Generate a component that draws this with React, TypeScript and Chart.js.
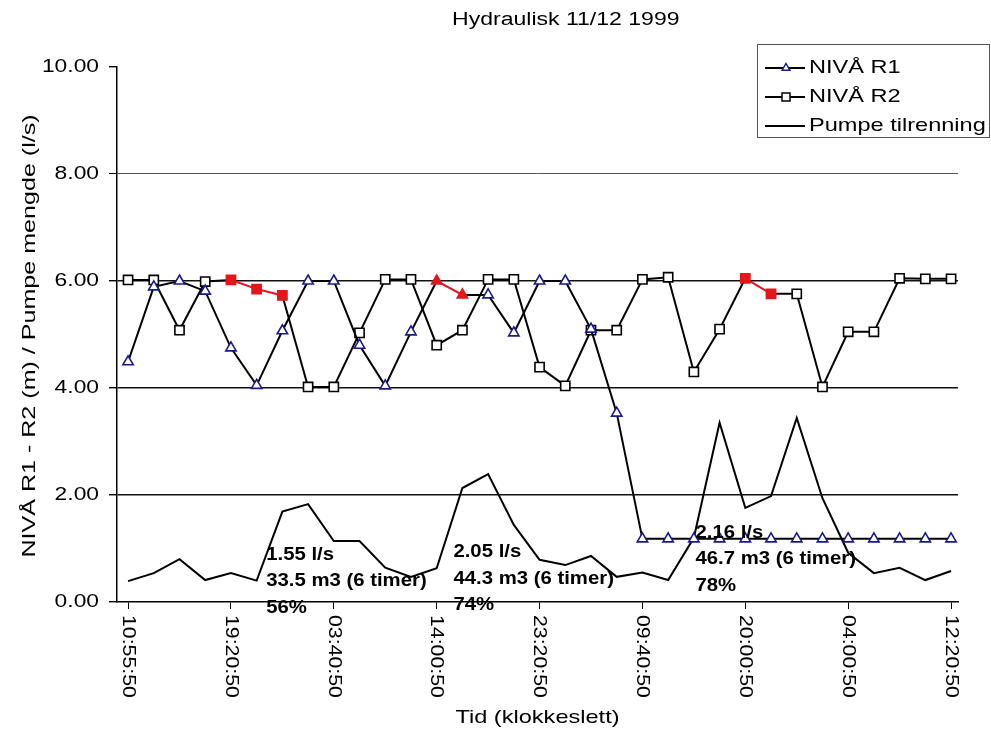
import React, { useEffect, useRef } from "react";
import { Chart, registerables } from "chart.js";

Chart.register(...registerables);

// ---------- data ----------
const chartTitle = "Hydraulisk 11/12 1999";
const xAxisTitle = "Tid (klokkeslett)";
const yAxisTitle = "NIVÅ R1 - R2 (m) / Pumpe mengde (l/s)";

// tick labels, one for every 4th sample
const timeTickLabels = [
  "10:55:50",
  "19:20:50",
  "03:40:50",
  "14:00:50",
  "23:20:50",
  "09:40:50",
  "20:00:50",
  "04:00:50",
  "12:20:50",
];
const samplesPerTick = 4;

const nivaR1 = [
  4.49, 5.89, 6.0, 5.81, 4.75, 4.05, 5.07, 6.0, 6.0, 4.8, 4.04, 5.05, 6.0, 5.74,
  5.74, 5.03, 6.0, 6.0, 5.1, 3.53, 1.18, 1.18, 1.18, 1.18, 1.18, 1.18, 1.18,
  1.18, 1.18, 1.18, 1.18, 1.18, 1.18,
];
const nivaR2 = [
  6.02, 6.02, 5.08, 5.99, 6.02, 5.85, 5.73, 4.02, 4.02, 5.03, 6.03, 6.03, 4.8,
  5.08, 6.03, 6.03, 4.39, 4.04, 5.08, 5.08, 6.03, 6.07, 4.3, 5.1, 6.05, 5.76,
  5.76, 4.02, 5.05, 5.05, 6.05, 6.04, 6.04,
];
const pumpeTilrenning = [
  0.39, 0.54, 0.8, 0.41, 0.54, 0.4, 1.69, 1.83, 1.14, 1.14, 0.64, 0.47, 0.63,
  2.13, 2.39, 1.44, 0.79, 0.69, 0.86, 0.47, 0.55, 0.41, 1.2, 3.35, 1.76, 1.98,
  3.44, 1.94, 0.92, 0.54, 0.64, 0.41, 0.58,
];
// highlighted (red) samples
const r1RedIdx = [12, 13];
const r2RedIdx = [4, 5, 6, 24, 25];

const yTickValues = [0, 2, 4, 6, 8, 10];

const annotations = [
  { x: 5.37, y: 0.88, lines: ["1.55 l/s", "33.5 m3 (6 timer)", "56%"] },
  { x: 12.65, y: 0.93, lines: ["2.05 l/s", "44.3 m3 (6 timer)", "74%"] },
  { x: 22.06, y: 1.29, lines: ["2.16 l/s", "46.7 m3 (6 timer)", "78%"] },
];

const legendItems = [
  { label: "NIVÅ R1", marker: "triangle" },
  { label: "NIVÅ R2", marker: "rect" },
  { label: "Pumpe tilrenning", marker: "none" },
];

// ---------- style ----------
const FF = '"Liberation Sans", Arial, Helvetica, sans-serif';
const NAVY = "#1a1a8a";
const RED = "#e3161c";
const BLACK = "#000000";

function drawText(
  ctx: CanvasRenderingContext2D,
  text: string,
  x: number,
  y: number,
  font: string,
  align: CanvasTextAlign,
  rot = 0,
  sx = 1.2
) {
  ctx.save();
  ctx.translate(x, y);
  if (rot) ctx.rotate(rot);
  ctx.scale(sx, 1);
  ctx.font = font;
  ctx.fillStyle = BLACK;
  ctx.textAlign = align;
  ctx.textBaseline = "middle";
  ctx.fillText(text, 0, 0);
  ctx.restore();
}

function drawTri(ctx: CanvasRenderingContext2D, x: number, y: number, r: number) {
  ctx.beginPath();
  ctx.moveTo(x, y - r);
  ctx.lineTo(x + r * 0.866, y + r * 0.5);
  ctx.lineTo(x - r * 0.866, y + r * 0.5);
  ctx.closePath();
  ctx.fillStyle = "#fff";
  ctx.fill();
  ctx.strokeStyle = NAVY;
  ctx.lineWidth = 1.5;
  ctx.stroke();
}

const overlayPlugin = {
  id: "overlay",
  afterDraw(chart: any) {
    const ctx: CanvasRenderingContext2D = chart.ctx;
    const xs = chart.scales.x;
    const ys = chart.scales.y;
    const area = chart.chartArea;

    // title
    drawText(ctx, chartTitle, 452, 20, `18px ${FF}`, "left", 0, 1.28);

    // y tick labels
    yTickValues.forEach((v) => {
      drawText(ctx, v.toFixed(2), 99, ys.getPixelForValue(v), `19px ${FF}`, "right", 0, 1.2);
    });

    // x tick labels (rotated clockwise)
    timeTickLabels.forEach((lab, k) => {
      const px = xs.getPixelForValue(k * samplesPerTick);
      drawText(ctx, lab, px, 615, `19px ${FF}`, "left", Math.PI / 2, 1.12);
    });

    // axis titles
    drawText(ctx, xAxisTitle, (area.left + area.right) / 2, 718, `19px ${FF}`, "center", 0, 1.24);
    drawText(ctx, yAxisTitle, 30, 336, `19px ${FF}`, "center", -Math.PI / 2, 1.32);

    // annotations
    annotations.forEach((a) => {
      const px = xs.getPixelForValue(a.x);
      const py = ys.getPixelForValue(a.y);
      a.lines.forEach((line, i) => {
        drawText(ctx, line, px, py + i * 26.5, `bold 18px ${FF}`, "left", 0, 1.13);
      });
    });

    // legend
    ctx.save();
    ctx.fillStyle = "#fff";
    ctx.fillRect(757, 44, 233, 93);
    ctx.strokeStyle = "#555";
    ctx.lineWidth = 1;
    ctx.strokeRect(757.5, 44.5, 232, 93);
    ctx.restore();
    const rowsY = [68, 97, 126];
    legendItems.forEach((it, i) => {
      const y = rowsY[i];
      ctx.save();
      ctx.strokeStyle = BLACK;
      ctx.lineWidth = 2;
      ctx.beginPath();
      ctx.moveTo(765, y);
      ctx.lineTo(805, y);
      ctx.stroke();
      if (it.marker === "triangle") drawTri(ctx, 786, y, 4.5);
      if (it.marker === "rect") {
        ctx.fillStyle = "#fff";
        ctx.fillRect(782, y - 4, 8, 8);
        ctx.lineWidth = 1.5;
        ctx.strokeRect(782, y - 4, 8, 8);
      }
      ctx.restore();
      drawText(ctx, it.label, 809, y, `19px ${FF}`, "left", 0, 1.24);
    });
  },
};

export default function App() {
  const ref = useRef<HTMLCanvasElement | null>(null);

  useEffect(() => {
    document.body.style.margin = "0";
    const canvas = ref.current;
    if (!canvas) return;

    const r1Colors = nivaR1.map((_, i) => (r1RedIdx.includes(i) ? RED : NAVY));
    const r1Fill = nivaR1.map((_, i) => (r1RedIdx.includes(i) ? RED : "#ffffff"));
    const r2Colors = nivaR2.map((_, i) => (r2RedIdx.includes(i) ? RED : BLACK));
    const r2Fill = nivaR2.map((_, i) => (r2RedIdx.includes(i) ? RED : "#ffffff"));

    const chart = new Chart(canvas, {
      type: "line",
      data: {
        datasets: [
          {
            label: "Pumpe tilrenning",
            data: pumpeTilrenning.map((y, i) => ({ x: i, y })),
            borderColor: BLACK,
            borderWidth: 2,
            pointRadius: 0,
            tension: 0,
            order: 3,
          },
          {
            label: "NIVÅ R2",
            data: nivaR2.map((y, i) => ({ x: i, y })),
            borderColor: BLACK,
            borderWidth: 2,
            pointStyle: "rect",
            pointRadius: 6.5,
            pointBorderWidth: 1.6,
            pointBorderColor: r2Colors,
            pointBackgroundColor: r2Fill,
            tension: 0,
            segment: {
              borderColor: (c: any) =>
                r2RedIdx.includes(c.p0DataIndex) && r2RedIdx.includes(c.p1DataIndex)
                  ? RED
                  : BLACK,
            },
            order: 2,
          },
          {
            label: "NIVÅ R1",
            data: nivaR1.map((y, i) => ({ x: i, y })),
            borderColor: BLACK,
            borderWidth: 2,
            pointStyle: "triangle",
            pointRadius: 6,
            pointBorderWidth: 1.6,
            pointBorderColor: r1Colors,
            pointBackgroundColor: r1Fill,
            tension: 0,
            segment: {
              borderColor: (c: any) =>
                r1RedIdx.includes(c.p0DataIndex) && r1RedIdx.includes(c.p1DataIndex)
                  ? RED
                  : BLACK,
            },
            order: 1,
          },
        ],
      },
      options: {
        responsive: false,
        animation: false,
        layout: { padding: { top: 67, right: 33, left: 0, bottom: 0 } },
        plugins: {
          legend: { display: false },
          title: { display: false },
          tooltip: { enabled: false },
        },
        scales: {
          x: {
            type: "linear",
            min: -0.43,
            max: 32.27,
            afterBuildTicks: (s: any) => {
              s.ticks = timeTickLabels.map((_, k) => ({ value: k * samplesPerTick }));
            },
            afterFit: (s: any) => {
              s.height = 134;
            },
            ticks: { display: false },
            grid: {
              drawOnChartArea: false,
              drawTicks: true,
              tickLength: 7,
              tickColor: BLACK,
              color: BLACK,
            },
            border: { display: true, color: BLACK, width: 1.5 },
          },
          y: {
            type: "linear",
            min: 0,
            max: 10,
            afterBuildTicks: (s: any) => {
              s.ticks = yTickValues.map((v) => ({ value: v }));
            },
            afterFit: (s: any) => {
              s.width = 117;
            },
            ticks: { display: false },
            grid: {
              drawTicks: true,
              tickLength: 8,
              tickColor: BLACK,
              color: (c: any) =>
                c.tick && (c.tick.value === 10 || c.tick.value === 0)
                  ? "rgba(0,0,0,0)"
                  : c.tick && c.tick.value === 8
                  ? "#555"
                  : "#111",
              lineWidth: (c: any) => (c.tick && c.tick.value === 8 ? 1 : 1.4),
            },
            border: { display: true, color: BLACK, width: 1.5 },
          },
        },
      },
      plugins: [overlayPlugin],
    });

    return () => chart.destroy();
  }, []);

  return (
    <div style={{ width: 991, height: 736, background: "#fff" }}>
      <canvas ref={ref} width={991} height={736} style={{ display: "block" }} />
    </div>
  );
}
